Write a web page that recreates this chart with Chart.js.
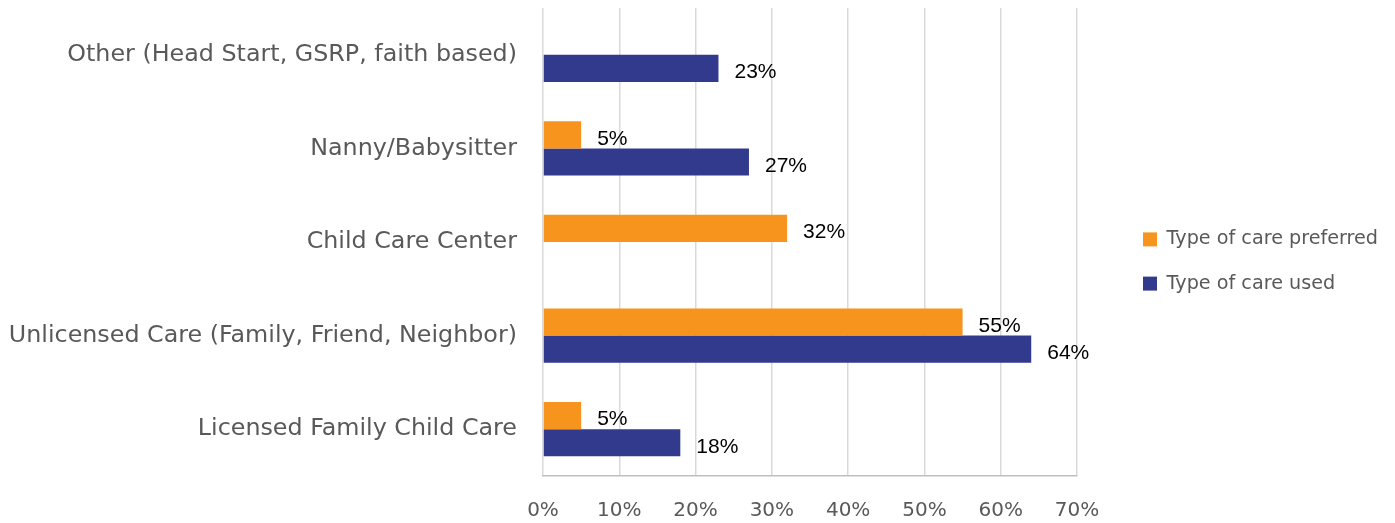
<!DOCTYPE html>
<html>
<head>
<meta charset="utf-8">
<script src="https://cdn.jsdelivr.net/npm/chart.js@4"></script>
<style>
  html, body { margin: 0; padding: 0; background: #fff; }
  #wrap { width: 1395px; height: 523px; }
</style>
</head>
<body>
<div id="wrap"><canvas id="grafico"></canvas></div>
<script>
// categories, top to bottom
const categorias = ['Other (Head Start, GSRP, faith based)', 'Nanny/Babysitter', 'Child Care Center', 'Unlicensed Care (Family, Friend, Neighbor)', 'Licensed Family Child Care'];
const preferido = [null, 5, 32, 55, 5];
const usado = [23, 27, null, 64, 18];
const ticksX = [0, 10, 20, 30, 40, 50, 60, 70];

// labels at the end of each bar
const rotulos = {
  id: 'rotulos',
  afterDatasetsDraw(chart) {
    const ctx = chart.ctx;
    ctx.save();
    ctx.font = '21px "Liberation Sans", Arial, sans-serif';
    ctx.fillStyle = '#000';
    ctx.textAlign = 'left';
    ctx.textBaseline = 'middle';
    chart.data.datasets.forEach((ds, i) => {
      chart.getDatasetMeta(i).data.forEach((bar, j) => {
        if (ds.data[j] == null) return;
        ctx.fillText(ds.data[j] + '%', bar.x + 16, bar.y + 4);
      });
    });
    ctx.restore();
  }
};

// push legend a bit to the right of the plot
const moverLegenda = {
  id: 'moverLegenda',
  afterLayout(chart) {
    chart.legend.left += 41;
    chart.legend.right += 41;
    chart.legend.top -= 4;
    chart.legend.bottom -= 4;
  }
};

new Chart(document.getElementById('grafico'), {
  type: 'bar',
  data: {
    labels: categorias,
    datasets: [
      {
        label: 'Type of care preferred',
        data: preferido,
        backgroundColor: '#F7941D',
        barPercentage: 1,
        categoryPercentage: 0.58
      },
      {
        label: 'Type of care used',
        data: usado,
        backgroundColor: '#323A8E',
        barPercentage: 1,
        categoryPercentage: 0.58
      }
    ]
  },
  plugins: [rotulos, moverLegenda],
  options: {
    indexAxis: 'y',
    responsive: true,
    maintainAspectRatio: false,
    animation: false,
    layout: { padding: { top: 8, left: 0, right: 0, bottom: 0 } },
    plugins: {
      legend: {
        position: 'right',
        labels: {
          boxWidth: 14,
          boxHeight: 14,
          padding: 25,
          color: '#595959',
          font: { family: '"DejaVu Sans", sans-serif', size: 19.2 }
        }
      },
      tooltip: { enabled: false }
    },
    scales: {
      x: {
        min: 0,
        max: 70,
        afterBuildTicks(scale) {
          scale.ticks = ticksX.map(v => ({ value: v }));
        },
        afterFit(scale) {
          scale.height = 47;
          scale.paddingRight = 318;
        },
        grid: { color: '#D9D9D9', lineWidth: 1.5, drawTicks: false },
        border: { color: '#BFBFBF', width: 1.5 },
        ticks: {
          padding: 23,
          color: '#595959',
          font: { family: '"DejaVu Sans", sans-serif', size: 20 },
          callback: v => v + '%'
        }
      },
      y: {
        afterFit(scale) {
          scale.width = 543;
          scale.paddingTop = 0;
          scale.paddingBottom = 0;
        },
        grid: { display: false, drawTicks: false },
        border: { display: false },
        ticks: {
          padding: 26,
          color: '#595959',
          font: { family: '"DejaVu Sans", sans-serif', size: 23.8 }
        }
      }
    }
  }
});
</script>
</body>
</html>
